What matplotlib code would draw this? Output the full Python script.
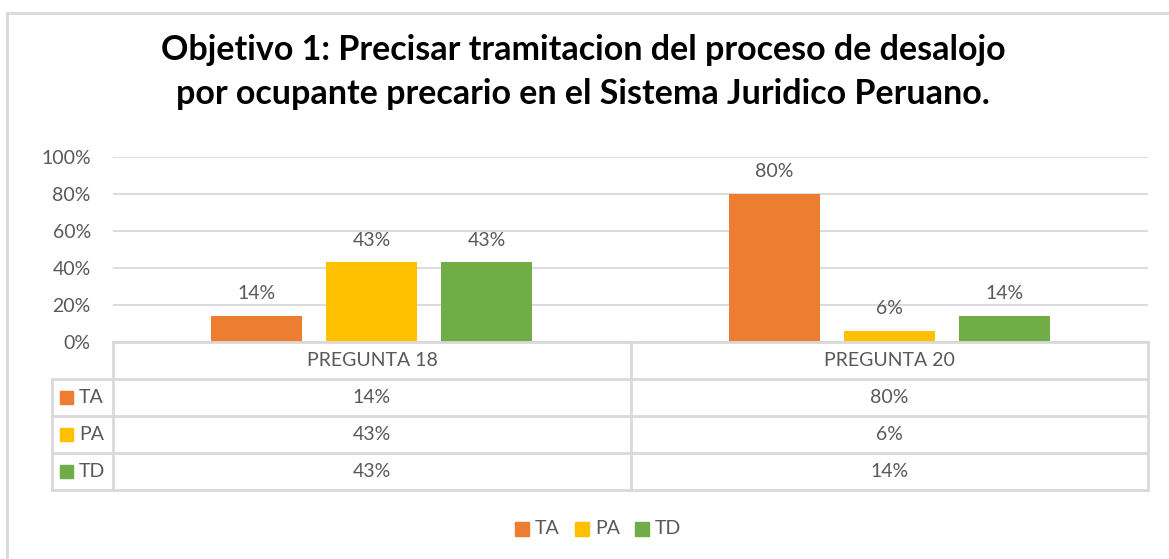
import numpy as np
import matplotlib
matplotlib.use('Agg')
import matplotlib.pyplot as plt
from matplotlib.lines import Line2D
from matplotlib.patches import Rectangle

titulo = 'Objetivo 1: Precisar tramitacion del proceso de desalojo\npor ocupante precario en el Sistema Juridico Peruano.'
preguntas = ['PREGUNTA 18', 'PREGUNTA 20']
series = ['TA', 'PA', 'TD']
TA = [0.14, 0.80]
PA = [0.43, 0.06]
TD = [0.43, 0.14]
colores = ['#ED7D31', '#FFC000', '#70AD47']

plt.rcParams['font.family'] = ['Lato', 'DejaVu Sans']
gris = '#595959'
linea = '#D9D9D9'
fs = 14

W, H = 1169, 559
fig = plt.figure(figsize=(W / 100, H / 100), dpi=100)

def fx(px):
    return px / W

def fy(py):
    return 1 - py / H

# marco exterior (solo se ve arriba e izquierda)
fig.add_artist(Line2D([fx(7), fx(7)], [fy(13), fy(559)], color=linea, lw=2))
fig.add_artist(Line2D([fx(7), fx(1169)], [fy(13), fy(13)], color=linea, lw=2))

fig.text(fx(583), fy(72), titulo, ha='center', va='center', fontsize=24.5,
         fontweight='bold', color='black', linespacing=1.45)

x0, x1, y0, y1 = 113, 1148, 342, 157
ax = fig.add_axes([fx(x0), fy(y0), fx(x1 - x0), fy(y1) - fy(y0)])
ax.set_xlim(0, 2)
ax.set_ylim(0, 1)

datos = [TA, PA, TD]
centros = np.arange(len(preguntas)) + 0.5
ancho = 0.176
paso = 0.222
for i, (nombre, vals) in enumerate(zip(series, datos)):
    pos = centros + (i - 1) * paso
    ax.bar(pos, vals, ancho, color=colores[i], zorder=3)
    for p, v in zip(pos, vals):
        ax.text(p, v + 0.075, f'{v:.0%}', ha='center', va='bottom',
                fontsize=fs, color=gris)

ax.set_yticks(np.arange(0, 1.01, 0.2))
ax.set_yticklabels([f'{t:.0%}' for t in np.arange(0, 1.01, 0.2)], fontsize=fs, color=gris)
ax.tick_params(axis='y', length=0, pad=16)
ax.set_xticks([])
ax.grid(axis='y', color=linea, lw=1.3, zorder=0)
for s in ax.spines.values():
    s.set_visible(False)

# tabla de datos
filas = [342, 379, 416, 453, 490]
xm = 631
for k, yy in enumerate(filas):
    xi = x0 if k == 0 else 52
    fig.add_artist(Line2D([fx(xi), fx(x1)], [fy(yy), fy(yy)], color=linea, lw=2))
for xx in [x0, xm, x1]:
    fig.add_artist(Line2D([fx(xx), fx(xx)], [fy(342), fy(490)], color=linea, lw=2))
fig.add_artist(Line2D([fx(52), fx(52)], [fy(379), fy(490)], color=linea, lw=2))

cols = [(x0 + xm) / 2, (xm + x1) / 2]
for c, pr in zip(cols, preguntas):
    fig.text(fx(c), fy(361), pr, ha='center', va='center', fontsize=fs, color=gris)
for i, (nombre, vals) in enumerate(zip(series, datos)):
    yc = (filas[i + 1] + filas[i + 2]) / 2
    fig.add_artist(Rectangle((fx(60), fy(yc + 6)), fx(13), fy(yc - 7) - fy(yc + 6),
                             color=colores[i]))
    fig.text(fx(79), fy(yc), nombre, ha='left', va='center', fontsize=fs, color=gris)
    for c, v in zip(cols, vals):
        fig.text(fx(c), fy(yc), f'{v:.0%}', ha='center', va='center', fontsize=fs, color=gris)

# leyenda
leg_x = [515, 575, 635]
for lx, nombre, col in zip(leg_x, series, colores):
    fig.add_artist(Rectangle((fx(lx), fy(536)), fx(14), fy(522) - fy(536), color=col))
    fig.text(fx(lx + 20), fy(529), nombre, ha='left', va='center', fontsize=fs, color=gris)

fig.savefig('out.png', dpi=100)
